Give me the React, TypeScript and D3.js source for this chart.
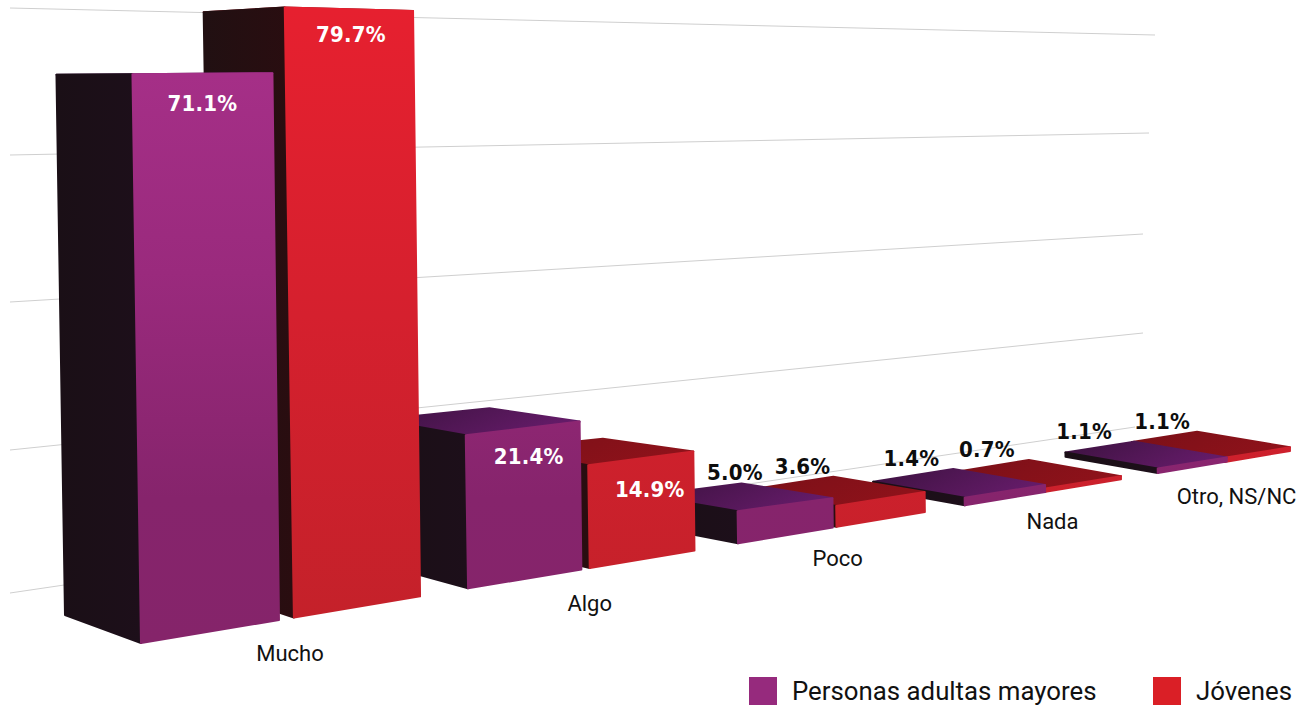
import React from "react";
import * as d3 from "d3";

const categories = ["Mucho", "Algo", "Poco", "Nada", "Otro, NS/NC"];
const seriesNames = ["Personas adultas mayores", "Jóvenes"];
const adultos = [71.1, 21.4, 5.0, 1.4, 1.1];
const jovenes = [79.7, 14.9, 3.6, 0.7, 1.1];
const gridValues = [0, 20, 40, 60, 80];

const W = 1303, H = 706;
const U_MAX = 11.67;
const BAR_W = 0.97;
const persp = (u: number) => 1 / (1 + 0.0433 * u);
const catBand = d3.scaleBand<string>().domain(categories).range([0, U_MAX]).paddingInner(0.217).paddingOuter(0);
const innerStep = d3.scaleLinear().domain([0, 9.76]).range([1.08, 0.94]);

const xPersp = d3.scaleLinear().domain([persp(0), persp(U_MAX)]).range([141, 1290]);
const xAt = (u: number) => xPersp(persp(u));
const yGround = d3.scaleLinear().domain([141, 1290]).range([643, 451]);
const pxPerUnit = d3.scaleLinear().domain([0, 1, 2.06, 2.44, 4.49, 5.9, 7, 12]).range([8, 7.68, 7.34, 7.15, 6.64, 5.8, 5.5, 3.2]);
const depthX = d3.scaleLinear().domain([0, 1.06, 3, 12]).range([-76, -81, -90, -93]);
const depthY = d3.scaleLinear().domain([0, 1.06, 3, 5, 12]).range([-28, -27, -23, -17, -16]);
const topDepthLift = d3.scaleLinear().domain([0, 100]).range([0, 40]);
const smallLabelDx = d3.scaleLinear().domain([4.88, 5.93, 7.32, 8.33, 9.76, 10.7]).range([-7, -32, -42, -42, -50, -35]);
const innerLabelDx = d3.scaleLinear().domain([0, 1.06, 2.44, 3.5]).range([0, 2, 6, 9]);
const innerLabelDy = d3.scaleLinear().domain([0, 1.06, 2.44, 3.5]).range([37, 33, 36, 39]);
const catLabelDx = d3.scaleLinear().domain([0.95, 3.4, 5.8, 8.3, 10.7]).range([13, 10, 6.3, 8.6, 10.8]);
const catLabelDy = d3.scaleLinear().domain([0.95, 3.4, 5.8, 8.3, 10.7]).range([41, 41, 38, 37, 42]);

const gridLeftY = d3.scaleLinear().domain(gridValues).range([593, 450, 302, 155, 8]);
const gridRightY = d3.scaleLinear().domain(gridValues).range([427, 333, 234, 133, 35]);
const gridRightX = d3.scaleLinear().domain(gridValues).range([1135, 1143, 1143, 1149, 1155]);

const poly = d3.line<[number, number]>().curve(d3.curveLinearClosed);
type P = [number, number];
const add = (a: P, b: P): P => [a[0] + b[0], a[1] + b[1]];

const purple = { front: "url(#fp)", side: "url(#sp)", top: "url(#tp)" };
const red = { front: "url(#fr)", side: "url(#sr)", top: "url(#tr)" };

const valueFont = "'DejaVu Sans Condensed','DejaVu Sans',sans-serif";
const labelFont = "Roboto, 'Noto Sans', sans-serif";

const barStart = (cat: string, si: number) => {
  const c = catBand(cat)!;
  return c + si * innerStep(c);
};

function Bar({ cat, si, v }: { cat: string; si: number; v: number }) {
  const u0 = barStart(cat, si);
  const u1 = u0 + BAR_W;
  const x0 = xAt(u0), x1 = xAt(u1);
  const BL: P = [x0, yGround(x0)];
  const BR: P = [x1, yGround(x1)];
  const h0 = v * pxPerUnit(u0), h1 = v * pxPerUnit(u1);
  const TL: P = [x0 - 0.015 * h0, BL[1] - h0];
  const TR: P = [x1 - 0.012 * h1, BR[1] - h1];
  const lift = topDepthLift(v);
  const dG0: P = [depthX(u0), depthY(u0)];
  const dT0: P = [depthX(u0), depthY(u0) + lift];
  const dT1: P = [depthX(u1), depthY(u1) + lift];
  const style = si === 0 ? purple : red;
  const common = { strokeLinejoin: "round" as const, strokeWidth: 2 };
  return (
    <g>
      <path d={poly([TL, TR, add(TR, dT1), add(TL, dT0)])!} fill={style.top} stroke={style.top} {...common} />
      <path d={poly([TL, add(TL, dT0), add(BL, dG0), BL])!} fill={style.side} stroke={style.side} {...common} />
      <path d={poly([TL, TR, BR, BL])!} fill={style.front} stroke={style.front} {...common} />
    </g>
  );
}

function ValueLabel({ cat, si, v }: { cat: string; si: number; v: number }) {
  const u0 = barStart(cat, si);
  const u1 = u0 + BAR_W;
  const x0 = xAt(u0), x1 = xAt(u1);
  const hR = v * pxPerUnit(u1), hL = v * pxPerUnit(u0);
  const yR = yGround(x1) - hR, yL = yGround(x0) - hL;
  const inside = v > 10;
  let x: number, y: number;
  if (inside) {
    x = (x0 - 0.015 * hL + x1 - 0.012 * hR) / 2 + innerLabelDx(u0);
    y = (yL + yR) / 2 + innerLabelDy(u0);
  } else {
    x = x1 + depthX(u1) + smallLabelDx(u0);
    y = yR + depthY(u1) + topDepthLift(v) - 3;
  }
  return (
    <text x={x} y={y} textAnchor="middle" fontFamily={valueFont} fontWeight={700} fontSize={22}
      fill={inside ? "#ffffff" : "#0d0d0d"} letterSpacing={0.2}>
      {v.toFixed(1)}%
    </text>
  );
}

export default function App() {
  const order = categories.map((_, i) => categories.length - 1 - i);
  return (
    <svg width={W} height={H} viewBox={`0 0 ${W} ${H}`} style={{ position: "absolute", left: 0, top: 0, background: "#fff" }}>
      <defs>
        <linearGradient id="fp" gradientUnits="userSpaceOnUse" x1="0" y1="75" x2="0" y2="640">
          <stop offset="0" stopColor="#a52f87" />
          <stop offset="0.35" stopColor="#9a2a7d" />
          <stop offset="0.75" stopColor="#86246c" />
          <stop offset="1" stopColor="#85246a" />
        </linearGradient>
        <linearGradient id="fr" gradientUnits="userSpaceOnUse" x1="0" y1="10" x2="0" y2="620">
          <stop offset="0" stopColor="#e6202f" />
          <stop offset="0.5" stopColor="#d5202e" />
          <stop offset="1" stopColor="#c4212a" />
        </linearGradient>
        <linearGradient id="sp" x1="0" y1="0" x2="1" y2="0">
          <stop offset="0" stopColor="#1a0f16" />
          <stop offset="1" stopColor="#1d0f1a" />
        </linearGradient>
        <linearGradient id="sr" x1="0" y1="0" x2="1" y2="0">
          <stop offset="0" stopColor="#211012" />
          <stop offset="1" stopColor="#2a0d10" />
        </linearGradient>
        <linearGradient id="tp" x1="0" y1="0" x2="1" y2="0.3">
          <stop offset="0" stopColor="#3c1240" />
          <stop offset="1" stopColor="#641b68" />
        </linearGradient>
        <linearGradient id="tr" x1="0" y1="0" x2="1" y2="0.3">
          <stop offset="0" stopColor="#7a1018" />
          <stop offset="1" stopColor="#8e121a" />
        </linearGradient>
      </defs>

      <g stroke="#cfcfcf" strokeWidth={1} fill="none">
        {gridValues.map((g) => (
          <line key={g} x1={10} y1={gridLeftY(g)} x2={gridRightX(g)} y2={gridRightY(g)} />
        ))}
      </g>

      {order.map((i) => (
        <g key={categories[i]}>
          <Bar cat={categories[i]} si={1} v={jovenes[i]} />
          <Bar cat={categories[i]} si={0} v={adultos[i]} />
        </g>
      ))}

      {categories.map((c, i) => (
        <g key={c}>
          <ValueLabel cat={c} si={0} v={adultos[i]} />
          <ValueLabel cat={c} si={1} v={jovenes[i]} />
        </g>
      ))}

      {categories.map((c) => {
        const um = catBand(c)! + catBand.bandwidth() / 2;
        const x = xAt(um);
        return (
          <text key={c} x={x + catLabelDx(um)} y={yGround(x) + catLabelDy(um)} textAnchor="middle"
            fontFamily={labelFont} fontSize={22} fill="#111">
            {c}
          </text>
        );
      })}

      <g fontFamily={labelFont} fontSize={25.8} fill="#111">
        <rect x={749} y={677} width={28} height={28} fill="#962a7d" />
        <text x={792} y={700}>{seriesNames[0]}</text>
        <rect x={1153} y={677} width={28} height={28} fill="#da1f26" />
        <text x={1196} y={700}>{seriesNames[1]}</text>
      </g>
    </svg>
  );
}
